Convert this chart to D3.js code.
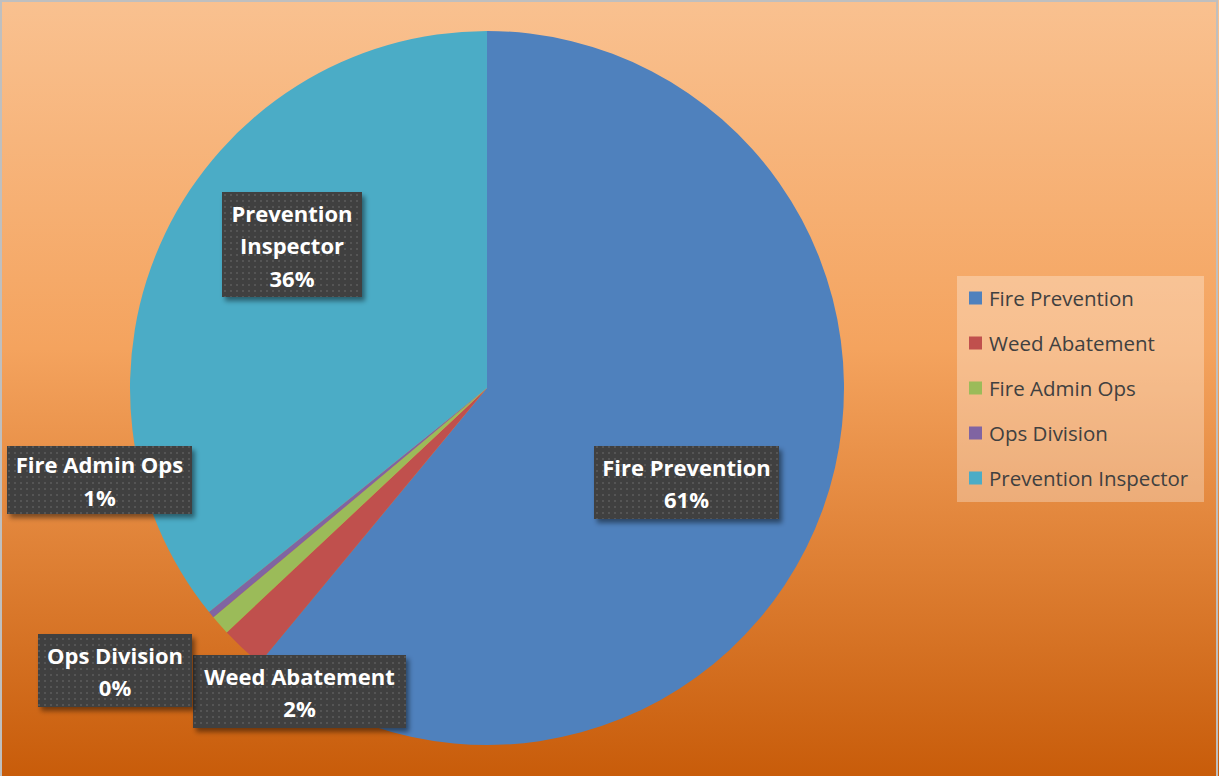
<!DOCTYPE html>
<html><head><meta charset="utf-8">
<script src="https://cdn.jsdelivr.net/npm/d3@7"></script>
<style>html,body{margin:0;padding:0;overflow:hidden;background:#fff}</style>
</head><body>
<script>
const categories = ["Fire Prevention","Weed Abatement","Fire Admin Ops","Ops Division","Prevention Inspector"];
const values = [61.0, 2.0, 0.9, 0.3, 35.8];
const colors = ["#4F81BD","#C0504D","#9BBB59","#8064A2","#4BACC6"];
const labelBoxes = [
  {x:594,y:446,w:185,h:73},
  {x:193,y:655,w:213,h:73},
  {x:7,y:446,w:185,h:68},
  {x:38,y:634,w:154,h:73},
  {x:222,y:192,w:140,h:105}
];
const labelLines = [
  ["Fire Prevention"],["Weed Abatement"],["Fire Admin Ops"],["Ops Division"],["Prevention","Inspector"]
];

const W=1219,H=776;
const svg=d3.select("body").append("svg").attr("width",W).attr("height",H);
const defs=svg.append("defs");
const bg=defs.append("linearGradient").attr("id","bg").attr("x1",0).attr("y1",0).attr("x2",0).attr("y2",1);
bg.append("stop").attr("offset","0%").attr("stop-color","#F9C190");
bg.append("stop").attr("offset","45%").attr("stop-color","#F4A35E");
bg.append("stop").attr("offset","100%").attr("stop-color","#C85C0A");
const pat=defs.append("pattern").attr("id","dots").attr("patternUnits","userSpaceOnUse").attr("width",6).attr("height",6);
pat.append("rect").attr("width",6).attr("height",6).attr("fill","#404040");
pat.append("rect").attr("x",2).attr("y",2).attr("width",2).attr("height",2).attr("fill","#555555");
const f=defs.append("filter").attr("id","sh").attr("x","-20%").attr("y","-20%").attr("width","140%").attr("height","150%");
f.append("feDropShadow").attr("dx",3).attr("dy",4).attr("stdDeviation",2.5).attr("flood-color","#000").attr("flood-opacity",0.45);

svg.append("rect").attr("x",0).attr("y",0).attr("width",W).attr("height",H).attr("fill","url(#bg)");
svg.append("rect").attr("x",1).attr("y",1).attr("width",W-3).attr("height",H+2).attr("fill","none").attr("stroke","#BFBFBF").attr("stroke-width",2);

const cx=487,cy=388,r=357;
const pie=d3.pie().sort(null).value(d=>d)(values);
const arc=d3.arc().innerRadius(0).outerRadius(r);
const g=svg.append("g").attr("transform",`translate(${cx},${cy})`);
g.selectAll("path").data(pie).join("path").attr("d",arc).attr("fill",(d,i)=>colors[i]);

const total=d3.sum(values);
const lg=svg.append("g");
labelBoxes.forEach((b,i)=>{
  const gg=lg.append("g");
  gg.append("rect").attr("x",b.x).attr("y",b.y).attr("width",b.w).attr("height",b.h).attr("fill","url(#dots)").attr("filter","url(#sh)");
  const lines=labelLines[i].concat([Math.round(values[i]/total*100)+"%"]);
  const lh=32.5;
  const startY=b.y+b.h/2-(lines.length-1)*lh/2;
  lines.forEach((t,j)=>{
    gg.append("text").attr("x",b.x+b.w/2).attr("y",startY+j*lh+2).attr("dy","0.35em")
      .attr("text-anchor","middle").attr("fill","#fff").attr("font-family","'Open Sans', sans-serif")
      .attr("font-weight","bold").attr("font-size",22).text(t);
  });
});

const leg=svg.append("g");
leg.append("rect").attr("x",957).attr("y",276).attr("width",247).attr("height",226).attr("fill","#FFFFFF").attr("fill-opacity",0.3);
categories.forEach((c,i)=>{
  const y=298+i*45;
  leg.append("rect").attr("x",969).attr("y",y-6.5).attr("width",13).attr("height",13).attr("fill",colors[i]);
  leg.append("text").attr("x",989).attr("y",y+1).attr("dy","0.35em").attr("fill","#404040")
    .attr("font-family","'Open Sans', sans-serif").attr("font-size",20.5).text(c);
});
</script>
</body></html>
